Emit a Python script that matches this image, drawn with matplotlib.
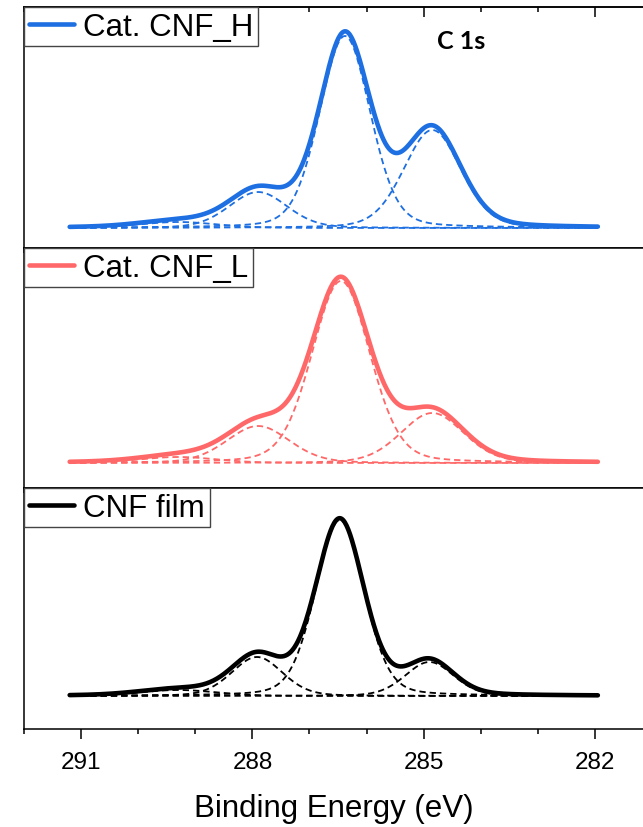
import matplotlib.pyplot as plt
import numpy as np

plt.rcParams['font.family'] = ['Liberation Sans', 'DejaVu Sans']

# C 1s peak fits: centre (eV), height (a.u.), FWHM (eV) of each component
centers_h = [289.3, 287.9, 286.38, 284.85]
heights_h = [6, 36, 192, 98]
fwhm_h = [1.6, 1.2, 1.05, 1.18]

centers_l = [289.3, 287.9, 286.45, 284.85]
heights_l = [6, 37, 182, 50]
fwhm_l = [1.6, 1.3, 1.2, 1.3]

centers_f = [289.3, 287.92, 286.47, 284.9]
heights_f = [6, 39, 176, 34]
fwhm_f = [1.6, 1.05, 1.0, 1.0]

labels = ['Cat. CNF_H', 'Cat. CNF_L', 'CNF film']
colors = ['#1d6fe2', '#ff6868', '#000000']
ylims = [(-20, 221), (-25, 215), (-33, 208)]

energy = np.linspace(291.2, 281.95, 600)


def pseudo_voigt(x, c, h, w, eta=0.2):
    g = np.exp(-4 * np.log(2) * (x - c) ** 2 / w ** 2)
    lor = 1 / (1 + 4 * (x - c) ** 2 / w ** 2)
    return h * (eta * lor + (1 - eta) * g)


fits = [(centers_h, heights_h, fwhm_h),
        (centers_l, heights_l, fwhm_l),
        (centers_f, heights_f, fwhm_f)]

fig = plt.figure(figsize=(6.43, 8.28), dpi=100)

# panel boxes in figure fraction (left, bottom, width, height)
left = 24 / 643
width = 1 - left
boxes = [(left, (828 - 249) / 828, width, 241 / 828),
         (left, (828 - 489) / 828, width, 240 / 828),
         (left, (828 - 730) / 828, width, 241 / 828)]

axes = []
for i, (fit, label, color) in enumerate(zip(fits, labels, colors)):
    ax = fig.add_axes(boxes[i])
    axes.append(ax)
    centers, heights, fwhm = fit

    # dashed fit components and the solid envelope
    total = np.zeros_like(energy)
    for c, h, w in zip(centers, heights, fwhm):
        comp = pseudo_voigt(energy, c, h, w)
        total += comp
        ax.plot(energy, comp, color=color, lw=1.3, ls=(0, (3.5, 2.2)))
    ax.plot(energy, total, color=color, lw=3.3, solid_capstyle='round', label=label)

    ax.set_xlim(292, 292 - 619 / 57.1)
    ax.set_ylim(*ylims[i])
    ax.set_yticks([])
    ax.set_xticks([291, 288, 285, 282])
    ax.set_xticks(np.arange(282, 293), minor=True)
    ax.tick_params(axis='x', which='major', direction='out', length=7.5, width=1.1,
                   labelsize=17.5, pad=8)
    ax.tick_params(axis='x', which='minor', direction='out', length=3.8, width=1.1)
    ax.spines['right'].set_visible(False)
    for s in ['left', 'top', 'bottom']:
        ax.spines[s].set_linewidth(1.1)
    if i < 2:
        ax.tick_params(axis='x', which='both', labelbottom=False)

    leg = ax.legend(loc='upper left', bbox_to_anchor=(0, 1), borderaxespad=0,
                    fancybox=False, edgecolor='#444444', framealpha=1, fontsize=22.5,
                    handlelength=1.45, handletextpad=0.3, borderpad=0.15)
    leg.get_frame().set_linewidth(1.0)
    leg.set_zorder(5)

# inward ticks along the very top edge
top = axes[0].secondary_xaxis('top')
top.set_xticks([291, 288, 285, 282])
top.set_xticks(np.arange(282, 293), minor=True)
top.tick_params(axis='x', which='major', direction='in', length=7.5, width=1.1, labeltop=False)
top.tick_params(axis='x', which='minor', direction='in', length=3.8, width=1.1)
top.spines['top'].set_linewidth(1.1)

axes[0].text(0.706, 0.863, 'C 1s', transform=axes[0].transAxes, ha='center', va='center',
             fontsize=18, fontweight='bold', family=['Lato', 'DejaVu Sans'])

axes[2].set_xlabel('Binding Energy (eV)', fontsize=22.5, labelpad=14.5)

fig.savefig('out.png', dpi=100)
